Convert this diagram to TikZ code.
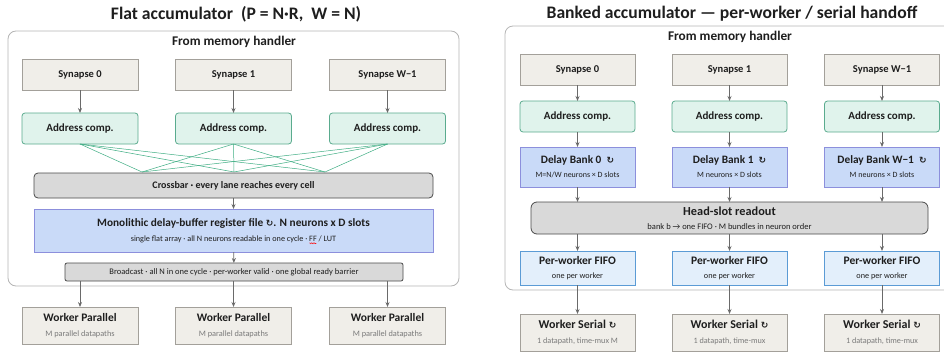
\documentclass[tikz,border=0pt]{standalone}
\usepackage{fontspec}
\setmainfont{Carlito}
\newfontfamily\symfont{DejaVu Sans}
\usetikzlibrary{arrows.meta,decorations.pathmorphing}
\definecolor{beigef}{HTML}{F0EEE9}
\definecolor{beiged}{HTML}{A3A09A}
\definecolor{greenf}{HTML}{E0F3EC}
\definecolor{greend}{HTML}{5AAB8E}
\definecolor{greenl}{HTML}{3FAE84}
\definecolor{grayf}{HTML}{D9D9D9}
\definecolor{grayd}{HTML}{4A4A4A}
\definecolor{bluef}{HTML}{C9DAF8}
\definecolor{blued}{HTML}{8C8FDC}
\definecolor{fifof}{HTML}{E3EFFB}
\definecolor{fifod}{HTML}{5B9BD5}
\definecolor{contd}{HTML}{B5B5B5}
\definecolor{txt}{HTML}{1E1E1E}
\definecolor{subtxt}{HTML}{7A7A7A}
\definecolor{arr}{HTML}{6A6A6A}
\newcommand{\cyc}{{\symfont\fontsize{9}{10}\selectfont ↻}}
\newcommand{\fs}[1]{\fontsize{#1}{#1}\selectfont}
\newcommand{\mnw}{M=N/W}
\tikzset{
  x=1pt, y=-1pt,
  every node/.style={inner sep=0pt, outer sep=0pt, text=txt, align=center},
  beigebox/.style={draw=beiged, fill=beigef, line width=0.8pt},
  greenbox/.style={draw=greend, fill=greenf, line width=0.8pt, rounded corners=3pt},
  graybox/.style={draw=grayd, fill=grayf, line width=0.8pt, rounded corners=4pt},
  bluebox/.style={draw=blued, fill=bluef, line width=0.8pt},
  fifobox/.style={draw=fifod, fill=fifof, line width=0.8pt},
  container/.style={draw=contd, fill=white, line width=0.8pt, rounded corners=8pt},
  flow/.style={draw=arr, line width=0.8pt, -{Stealth[length=5pt,width=4pt]}},
  xbar/.style={draw=greenl, line width=0.5pt},
  ttl/.style={font=\bfseries\fs{17.6}, text=txt},
  hdr/.style={font=\bfseries\fs{13.3}, text=txt},
}
\newcommand{\sub}[2]{{\fs{#1}\color{subtxt}#2}}
\newcommand{\subd}[2]{{\fs{#1}\color{txt}#2}}
\begin{document}
\begin{tikzpicture}
\useasboundingbox (0,0) rectangle (944,356);
\clip (0,0) rectangle (944,356);

%% ---------------- LEFT PANEL ----------------
\node[ttl] (ltitle) at (236,14) {Flat accumulator\ \ (P = N·R,\ \ W = N)};
\node[container, minimum width=451pt, minimum height=255pt, anchor=north west] (lcont) at (8,31) {};
\node[hdr] (lfrom) at (234,42) {From memory handler};

\foreach \i/\x/\t in {0/80/Synapse 0,1/233.5/Synapse 1,2/387.5/Synapse W−1}{
  \node[beigebox, minimum width=116pt, minimum height=31pt, font=\bfseries\fs{10.5}] (lsyn\i) at (\x,74.5) {\t};
  \node[greenbox, minimum width=116pt, minimum height=31pt, font=\bfseries\fs{11}] (ladr\i) at (\x,128.5) {Address comp.};
  \draw[flow] (lsyn\i) -- (ladr\i);
}
\coordinate (lx0) at (142,172);
\coordinate (lx1) at (234,172);
\coordinate (lx2) at (325,172);
\foreach \i in {0,1,2}{
  \foreach \j in {0,1,2}{
    \draw[xbar] (ladr\i.south) -- (lx\j);
  }
}
\node[graybox, minimum width=399pt, minimum height=25pt, font=\bfseries\fs{10}] (lcross) at (233.5,185.5) {Crossbar · every lane reaches every cell};
\node[bluebox, minimum width=399pt, minimum height=43pt] (lmono) at (233.5,230.5)
  {{\bfseries\fs{11.3}Monolithic delay-buffer register file \cyc. N neurons x D slots}\\[3pt]
   \subd{8.2}{single flat array · all N neurons readable in one cycle · \rlap{\tikz[overlay,x=1pt,y=1pt]\draw[red,line width=0.35pt,decorate,decoration={zigzag,amplitude=0.5pt,segment length=1.6pt}] (0.3,-2) -- (7.5,-2);}FF / LUT}};
\draw[flow] (lcross) -- (lmono);
\node[graybox, rounded corners=2pt, minimum width=338pt, minimum height=18pt, font=\fs{8.5}] (lbcast) at (234,272)
  {Broadcast · all N in one cycle · per-worker valid · one global ready barrier};
\draw[flow] (lmono) -- (lbcast);

\foreach \i/\x in {0/80,1/233.5,2/387.5}{
  \node[beigebox, minimum width=116pt, minimum height=37pt] (lwrk\i) at (\x,325.5)
    {{\bfseries\fs{11.5}Worker Parallel}\\[3pt]\sub{8.3}{M parallel datapaths}};
  \draw[flow] (lbcast.south -| lwrk\i) -- (lwrk\i);
}

%% ---------------- RIGHT PANEL ----------------
\node[ttl] (rtitle) at (732,14) {Banked accumulator — per-worker / serial handoff};
\node[container, minimum width=452pt, minimum height=264pt, anchor=north west] (rcont) at (505,26) {};
\node[hdr] (rfrom) at (730,37) {From memory handler};

\foreach \i/\x/\t/\b/\s/\w in {0/577.5/Synapse 0/Delay Bank 0/\mnw{} neurons × D slots/1 datapath{,} time-mux M,
                              1/729.5/Synapse 1/Delay Bank 1/M neurons × D slots/1 datapath{,} time-mux,
                              2/882/Synapse W−1/Delay Bank W−1/M neurons × D slots/1 datapath{,} time-mux}{
  \node[beigebox, minimum width=115pt, minimum height=31pt, font=\bfseries\fs{10.5}] (rsyn\i) at (\x,69.5) {\t};
  \node[greenbox, minimum width=115pt, minimum height=31pt, font=\bfseries\fs{11}] (radr\i) at (\x,116.5) {Address comp.};
  \node[bluebox, minimum width=115pt, minimum height=40pt] (rbank\i) at (\x,167)
    {{\bfseries\fs{11.3}\b\ \ \cyc}\\[2pt]\subd{8}{\s}};
  \node[fifobox, minimum width=115pt, minimum height=34pt] (rfifo\i) at (\x,268)
    {{\bfseries\fs{11.5}Per-worker FIFO}\\[2pt]\subd{8.2}{one per worker}};
  \node[beigebox, minimum width=115pt, minimum height=37pt] (rwrk\i) at (\x,332.5)
    {{\bfseries\fs{12}Worker Serial \cyc}\\[3pt]\sub{8.2}{\w}};
  \draw[flow] (rsyn\i) -- (radr\i);
  \draw[flow] (radr\i) -- (rbank\i);
  \draw[flow] (rfifo\i) -- (rwrk\i);
}
\node[graybox, rounded corners=6pt, minimum width=397pt, minimum height=32pt] (rhead) at (729.5,218)
  {{\bfseries\fs{12.3}Head-slot readout}\\[2pt]\subd{8.5}{bank b → one FIFO · M bundles in neuron order}};
\foreach \i in {0,1,2}{
  \draw[flow] (rbank\i) -- (rhead.north -| rbank\i);
  \draw[flow] (rhead.south -| rfifo\i) -- (rfifo\i);
}
\end{tikzpicture}
\end{document}
